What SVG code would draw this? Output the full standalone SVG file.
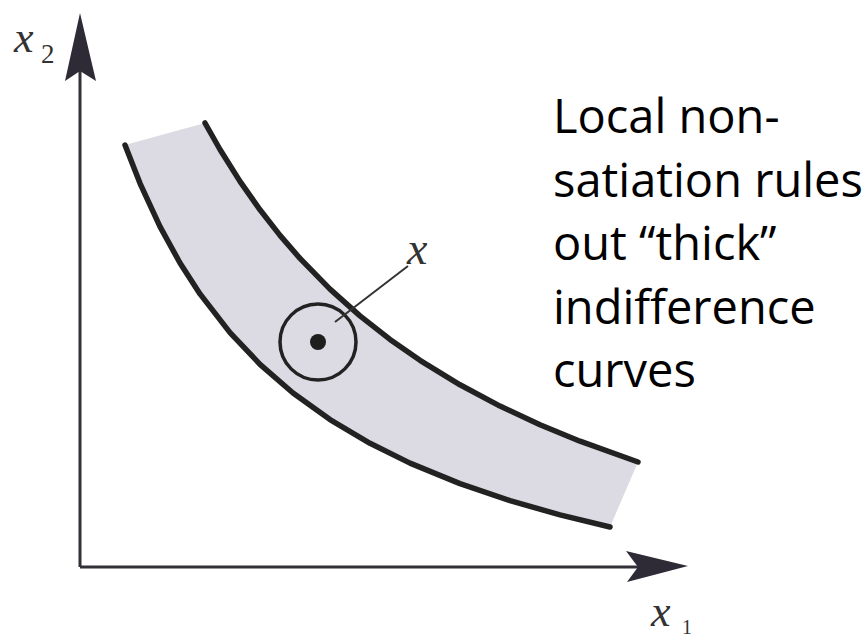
<svg xmlns="http://www.w3.org/2000/svg" width="863" height="641" viewBox="0 0 863 641">
<style>
.axis{stroke:#333038;stroke-width:3;fill:none}
.head{fill:#2e2b36;stroke:none}
.curve{stroke:#222;stroke-width:5.5;fill:none;stroke-linecap:round;stroke-linejoin:round}
.band{fill:#dcdae2;stroke:none}
.ring{stroke:#222;stroke-width:3.5;fill:none}
.lead{stroke:#333;stroke-width:2;fill:none}
.math{font-family:"Liberation Serif",serif;font-style:italic;fill:#333}
.sub{font-family:"Liberation Serif",serif;fill:#333}
.note{font-family:"Open Sans","Liberation Sans",sans-serif;font-size:47px;fill:#000}
</style>
<rect width="863" height="641" fill="#fff"/>
<g id="band">
<path class="band" d="M205,123 L220,149.5 L240,181.4 L260,209.8 L280,235.4 L300,258.4 L330,289.1 L360,315.9 L390,339.4 L420,360.3 L460,384.8 L500,406.1 L540,424.7 L580,441.2 L638,462 L610,527 L560,514.9 L510,500.6 L460,483.6 L410,463.1 L370,443.3 L330,419.6 L293,393 L260,364.3 L230,332.6 L200,293.9 L180,263 L160,226.6 L140,183.3 L125,145 Z"/>
</g>
<g id="axes">
<line class="axis" x1="80" y1="567" x2="80" y2="70"/>
<polygon class="head" points="80,13 96,81 80,71 65,81"/>
<line class="axis" x1="80" y1="567" x2="640" y2="567"/>
<polygon class="head" points="688,566 626,551 638,567 627,582"/>
</g>
<g id="curve-upper">
<path class="curve" d="M205,123 L220,149.5 L240,181.4 L260,209.8 L280,235.4 L300,258.4 L330,289.1 L360,315.9 L390,339.4 L420,360.3 L460,384.8 L500,406.1 L540,424.7 L580,441.2 L638,462"/>
</g>
<g id="curve-lower">
<path class="curve" d="M125,145 L140,183.3 L160,226.6 L180,263 L200,293.9 L230,332.6 L260,364.3 L293,393 L330,419.6 L370,443.3 L410,463.1 L460,483.6 L510,500.6 L560,514.9 L610,527"/>
</g>
<g id="point-x">
<circle class="ring" cx="318" cy="342" r="38"/>
<circle cx="318" cy="342" r="8" fill="#1e1e1e"/>
</g>
<g id="connectors">
<line class="lead" x1="335" y1="322" x2="408" y2="266"/>
</g>
<g id="label-x">
<text class="math" x="407" y="264" font-size="46">x</text>
</g>
<g id="label-x2">
<text class="math" x="14" y="52" font-size="44">x</text>
<text class="sub" x="41" y="63" font-size="27">2</text>
</g>
<g id="label-x1">
<text class="math" x="651" y="626" font-size="44">x</text>
<text class="sub" x="682" y="634" font-size="20">1</text>
</g>
<g id="note">
<text class="note" x="553" y="133">Local non-</text>
<text class="note" x="553" y="197">satiation rules</text>
<text class="note" x="553" y="260">out “thick”</text>
<text class="note" x="553" y="324">indifference</text>
<text class="note" x="553" y="387">curves</text>
</g>
</svg>
